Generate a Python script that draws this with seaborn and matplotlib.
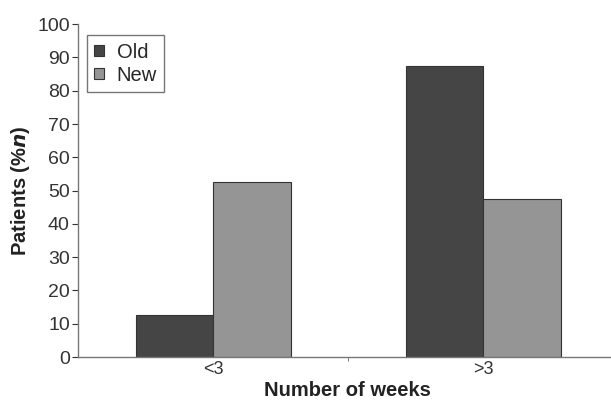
import seaborn as sns
import matplotlib.pyplot as plt
import pandas as pd

# values
weeks = ["<3", ">3"]
old = [12.5, 87.5]
new = [52.5, 47.5]
groups = ["Old", "New"]

df = pd.DataFrame({
    "weeks": weeks * 2,
    "pct": old + new,
    "group": [groups[0]] * 2 + [groups[1]] * 2,
})

sns.set_style("white")
plt.rcParams["font.family"] = ["Liberation Sans", "DejaVu Sans"]

fig = plt.figure(figsize=(6.11, 4.03), dpi=100)
ax = fig.add_axes([0.128, 0.114, 0.88, 0.826])

sns.barplot(data=df, x="weeks", y="pct", hue="group",
            palette=["#454545", "#959595"], width=0.575, gap=0,
            edgecolor="#333333", linewidth=0.8, saturation=1, ax=ax)

ax.set_xlim(-0.5, 1.49)
ax.set_ylim(0, 100)
ax.set_yticks(range(0, 101, 10))
ax.tick_params(axis="y", labelsize=14, colors="#333333", length=4,
               direction="out", left=True, width=0.8, pad=2)
ax.tick_params(axis="x", labelsize=13, colors="#333333", length=0, pad=3)
ax.set_xticks([0.5], minor=True)
ax.tick_params(axis="x", which="minor", length=3, bottom=True, color="#666666")

for s in ["top", "right"]:
    ax.spines[s].set_visible(False)
for s in ["left", "bottom"]:
    ax.spines[s].set_color("#777777")
    ax.spines[s].set_linewidth(1.0)

ax.set_xlabel("Number of weeks", fontsize=14.5, fontweight="bold", color="#222222", labelpad=2)
ax.set_ylabel(r"Patients (%$\boldsymbol{n}$)", fontsize=14.5, fontweight="bold", color="#222222", labelpad=4)

leg = ax.legend(loc="upper left", bbox_to_anchor=(0.017, 0.966), frameon=True,
                fancybox=False, edgecolor="#555555", fontsize=14.5,
                handlelength=0.5, handleheight=0.5, handletextpad=0.6,
                borderpad=0.35, labelspacing=0.2, borderaxespad=0)
leg.get_frame().set_linewidth(1.0)

fig.savefig("out.png", dpi=100)
